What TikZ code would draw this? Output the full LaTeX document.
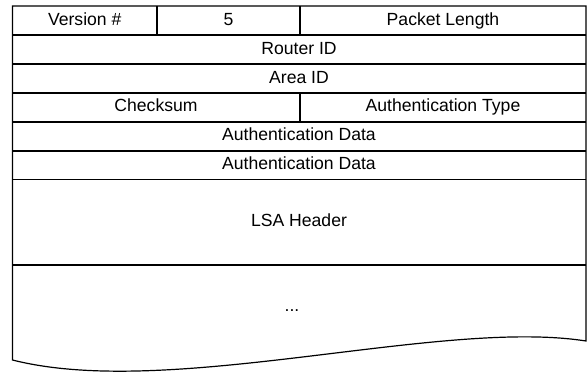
\documentclass[tikz,border=0pt]{standalone}
\usepackage{fontspec}
\setmainfont{Liberation Sans}

\begin{document}
\begin{tikzpicture}[x=1pt, y=-1pt, line width=1.2pt,
  every node/.style={font=\fontsize{17.6}{20}\selectfont, inner sep=0pt, anchor=base}]

\useasboundingbox (0,0) rectangle (588,372);

% LSA packet, outer frame with torn bottom

\draw (12.5,6) -- (586,6) -- (586,341)
  .. controls (440,318) and (170,400) .. (12.5,360) -- cycle;

% rows

\draw (12.5,35) -- (586,35);
\draw (12.5,64) -- (586,64);
\draw (12.5,93) -- (586,93);
\draw (12.5,122) -- (586,122);
\draw (12.5,151) -- (586,151);
\draw (12.5,179.5) -- (586,179.5);
\draw (12.5,265) -- (586,265);

% field borders

\draw (157,6) -- (157,35);
\draw (300,6) -- (300,35);
\draw (300,93) -- (300,122);

% fields

\node (version) at (84.75,25) {Version \#};
\node (five) at (228.5,25) {5};
\node (pktlen) at (443,25) {Packet Length};
\node (router) at (299,54) {Router ID};
\node (area) at (299,83) {Area ID};
\node (checksum) at (156,111.5) {Checksum};
\node (authtype) at (443,111.5) {Authentication Type};
\node (authdata1) at (299,140.5) {Authentication Data};
\node (authdata2) at (299,169.5) {Authentication Data};
\node (lsahdr) at (299,226.5) {LSA Header};
\node (more) at (292,311) {...};

\end{tikzpicture}
\end{document}
